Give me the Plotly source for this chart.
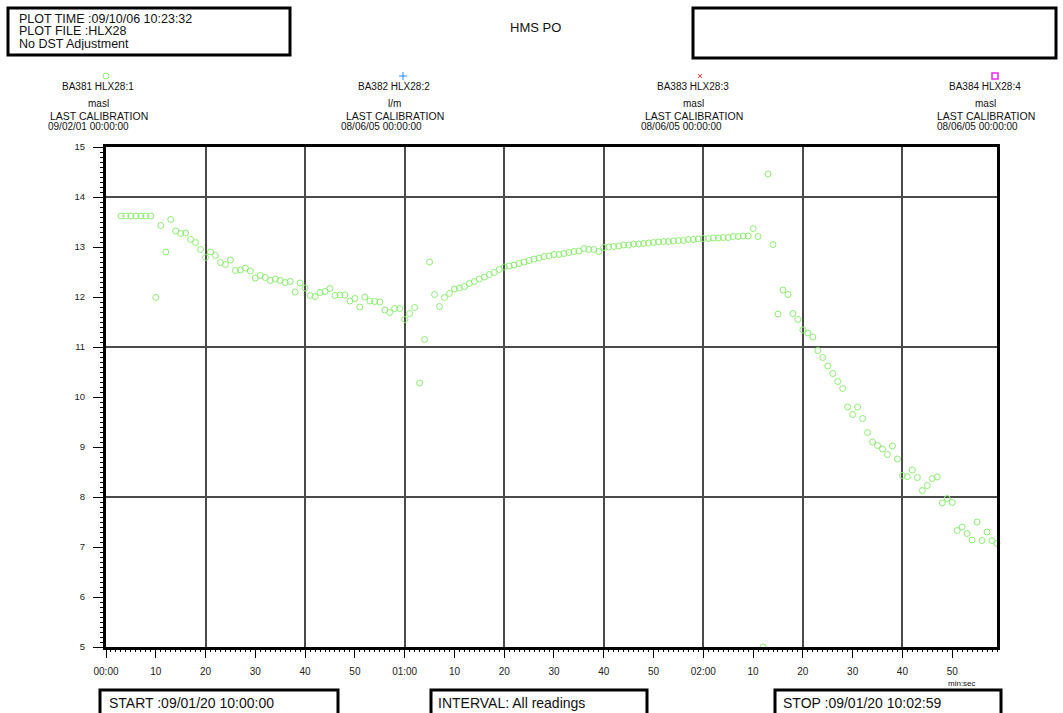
import plotly.graph_objects as go

# ---- readings for BA381 HLX28:1 (elapsed seconds from START, masl) ----
seconds = list(range(3, 180))
level = [
    13.62, 13.62, 13.62, 13.62, 13.62, 13.62, 13.62,          # 3-9
    11.99, 13.43, 12.90, 13.55, 13.32, 13.27, 13.28, 13.15, 13.09, 12.95,  # 10-19
    12.79, 12.90, 12.83, 12.69, 12.65, 12.74, 12.53, 12.54, 12.58, 12.52,  # 20-29
    12.38, 12.43, 12.39, 12.33, 12.36, 12.33, 12.29, 12.31, 12.10, 12.28,  # 30-39
    12.18, 12.03, 12.01, 12.09, 12.11, 12.17, 12.03, 12.04, 12.04, 11.92,  # 40-49
    11.97, 11.80, 12.00, 11.92, 11.91, 11.90, 11.74, 11.69, 11.77, 11.77,  # 50-59
    11.55, 11.67, 11.79, 10.28, 11.15, 12.70, 12.05, 11.81, 11.99, 12.07,  # 60-69
    12.16, 12.18, 12.21, 12.27, 12.31, 12.36, 12.40, 12.45, 12.49, 12.55,  # 70-79
    12.60, 12.62, 12.64, 12.67, 12.70, 12.73, 12.76, 12.78, 12.81, 12.82,  # 80-89
    12.85, 12.85, 12.87, 12.89, 12.91, 12.92, 12.97, 12.95, 12.95, 12.91,  # 90-99
    12.99, 13.00, 13.01, 13.02, 13.04, 13.04, 13.06, 13.06, 13.07, 13.08,  # 100-109
    13.09, 13.10, 13.11, 13.11, 13.12, 13.13, 13.13, 13.15, 13.15, 13.16,  # 110-119
    13.17, 13.17, 13.18, 13.18, 13.19, 13.19, 13.21, 13.21, 13.22, 13.22,  # 120-129
    13.37, 13.21, 5.00, 14.46, 13.05, 11.66, 12.14, 12.05, 11.67, 11.55,   # 130-139
    11.34, 11.28, 11.20, 10.93, 10.79, 10.62, 10.47, 10.31, 10.17, 9.80,   # 140-149
    9.65, 9.80, 9.57, 9.29, 9.10, 9.03, 8.96, 8.85, 9.02, 8.76,            # 150-159
    8.43, 8.41, 8.54, 8.39, 8.13, 8.23, 8.37, 8.40, 7.88, 7.97,            # 160-169
    7.89, 7.33, 7.40, 7.27, 7.14, 7.50, 7.13, 7.30, 7.13, 7.07,            # 170-179
]

x_tick_vals = list(range(0, 180, 10))
x_tick_text = ["00:00", "10", "20", "30", "40", "50",
               "01:00", "10", "20", "30", "40", "50",
               "02:00", "10", "20", "30", "40", "50"]
x_grid_vals = list(range(20, 180, 20))
y_tick_vals = list(range(5, 16))
y_grid_vals = [8, 11, 14]

channels = ["BA381 HLX28:1", "BA382 HLX28:2", "BA383 HLX28:3", "BA384 HLX28:4"]
units = ["masl", "l/m", "masl", "masl"]
calibrations = ["09/02/01 00:00:00", "08/06/05 00:00:00",
                "08/06/05 00:00:00", "08/06/05 00:00:00"]

FONT = "Liberation Sans, Arial, Helvetica, sans-serif"
INK = "#111111"
GREEN = "rgb(140,238,112)"

# page / plot-area geometry (pixels)
W, H = 1063, 713
L, R, T, B = 106, 997, 147, 647
X_RANGE = [0, 179]
Y_RANGE = [5, 15]


def px(x):
    return (x - L) / (R - L)


def py(y):
    return (B - y) / (B - T)


fig = go.Figure()

fig.add_trace(go.Scatter(
    x=seconds, y=level, mode="markers",
    marker=dict(symbol="circle-open", size=6, color=GREEN, line=dict(width=1, color=GREEN)),
    cliponaxis=False, showlegend=False, hoverinfo="x+y",
))

# carrier traces for the coarse grid axes and the fine tick axes
for xa, ya in (("x2", "y2"), ("x3", "y3")):
    fig.add_trace(go.Scatter(
        x=[X_RANGE[0]], y=[Y_RANGE[0]], xaxis=xa, yaxis=ya, mode="markers",
        marker=dict(opacity=0), showlegend=False, hoverinfo="skip",
    ))

annotations = []


def text(x, y, s, size, xanchor="center", color=INK, height=None):
    a = dict(
        x=px(x), y=py(y), xref="paper", yref="paper", text=s, showarrow=False,
        xanchor=xanchor, yanchor="middle", font=dict(family=FONT, size=size, color=color),
    )
    if height is not None:
        a["height"] = height
    annotations.append(a)


# header
text(17, 18.5, "PLOT TIME :09/10/06 10:23:32", 12.5, "left", height=12)
text(17, 31.5, "PLOT FILE :HLX28", 12.5, "left", height=12)
text(17, 44.5, "No DST Adjustment", 12.5, "left", height=12)
text(535, 27, "HMS PO", 13)

# channel captions
title_x = [98, 394, 693, 985]
date_x = [88, 381, 681, 977]
for cx, dx, name, unit, cal in zip(title_x, date_x, channels, units, calibrations):
    text(cx, 87, name, 10)
    text(cx, 104, unit, 10)
    text(cx + 1, 116, "LAST CALIBRATION", 10.5, height=11)
    text(dx, 126, cal, 10, height=10)

text(962, 683, "min:sec", 8, height=8)

# footer
text(107, 703, "START :09/01/20 10:00:00", 14, "left")
text(436, 703, "INTERVAL: All readings", 14, "left")
text(781, 703, "STOP :09/01/20 10:02:59", 14, "left")

shapes = []


def box(x0, y0, x1, y1, width=3):
    shapes.append(dict(type="rect", xref="paper", yref="paper",
                       x0=px(x0), x1=px(x1), y0=py(y1), y1=py(y0),
                       line=dict(color="black", width=width), fillcolor="rgba(0,0,0,0)"))


box(8, 8, 290, 55)
box(693, 8, 1056, 58)
box(100, 690, 338, 730)
box(431, 690, 647, 730)
box(775, 690, 1001, 730)

# channel symbols
shapes.append(dict(type="circle", xref="paper", yref="paper",
                   x0=px(103), x1=px(109), y0=py(79), y1=py(73),
                   line=dict(color=GREEN, width=1)))
for seg in [((403, 72), (403, 80)), ((399, 76), (407, 76))]:
    shapes.append(dict(type="line", xref="paper", yref="paper",
                       x0=px(seg[0][0]), y0=py(seg[0][1]), x1=px(seg[1][0]), y1=py(seg[1][1]),
                       line=dict(color="rgb(30,140,255)", width=1)))
for seg in [((698, 74), (702, 78)), ((698, 78), (702, 74))]:
    shapes.append(dict(type="line", xref="paper", yref="paper",
                       x0=px(seg[0][0]), y0=py(seg[0][1]), x1=px(seg[1][0]), y1=py(seg[1][1]),
                       line=dict(color="rgb(255,60,60)", width=1)))
shapes.append(dict(type="rect", xref="paper", yref="paper",
                   x0=px(992), x1=px(998), y0=py(79), y1=py(73),
                   line=dict(color="rgb(235,40,235)", width=1.5)))

tickfont = dict(family=FONT, size=10, color="#222222")
bare = dict(showticklabels=False, showline=False, zeroline=False, fixedrange=True)

fig.update_layout(
    width=W, height=H,
    margin=dict(l=L, r=W - R, t=T, b=H - B, pad=0),
    paper_bgcolor="white", plot_bgcolor="white",
    showlegend=False,
    annotations=annotations,
    shapes=shapes,
    # labelled axes with the long ticks and the heavy frame
    xaxis=dict(
        range=X_RANGE, tickmode="array", tickvals=x_tick_vals, ticktext=x_tick_text,
        ticks="outside", ticklen=8, tickwidth=1, tickcolor="black",
        ticklabelstandoff=5, tickfont=tickfont,
        showgrid=False, zeroline=False,
        showline=True, linewidth=3, linecolor="black", mirror=True,
        fixedrange=True,
    ),
    yaxis=dict(
        range=Y_RANGE, tickmode="array", tickvals=y_tick_vals,
        ticks="outside", ticklen=10, tickwidth=1, tickcolor="black",
        ticklabelstandoff=6, tickfont=dict(family=FONT, size=9.5, color="#222222"),
        showgrid=False, zeroline=False,
        showline=True, linewidth=3, linecolor="black", mirror=True,
        fixedrange=True,
    ),
    # coarse grid
    xaxis2=dict(overlaying="x", anchor="y", range=X_RANGE, tickmode="array", tickvals=x_grid_vals,
                showgrid=True, gridcolor="#4a4a4a", gridwidth=1.5, ticks="", **bare),
    yaxis2=dict(overlaying="y", anchor="x", range=Y_RANGE, tickmode="array", tickvals=y_grid_vals,
                showgrid=True, gridcolor="#4a4a4a", gridwidth=1.5, ticks="", **bare),
    # fine ticks: one per second, one per 0.1 m
    xaxis3=dict(overlaying="x", anchor="y", side="bottom", range=X_RANGE,
                tickmode="linear", tick0=0, dtick=1, ticks="outside", ticklen=4,
                tickwidth=1, tickcolor="black", showgrid=False, **bare),
    yaxis3=dict(overlaying="y", anchor="x", side="left", range=Y_RANGE,
                tickmode="linear", tick0=5, dtick=0.1, ticks="outside", ticklen=5,
                tickwidth=1, tickcolor="black", showgrid=False, **bare),
)

fig.write_html("out.html")
